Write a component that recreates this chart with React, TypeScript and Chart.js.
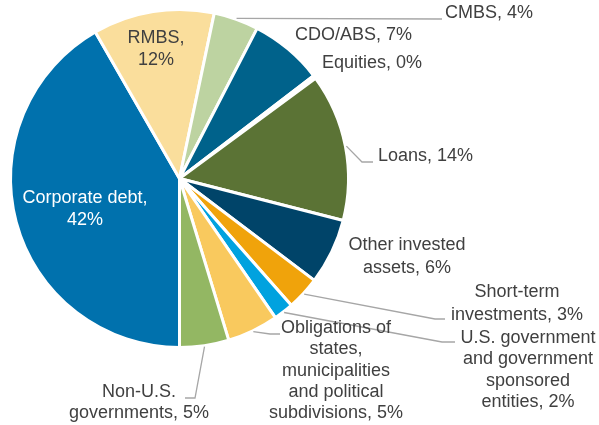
import React, { useEffect, useRef } from "react";
import { Chart, registerables } from "chart.js";

Chart.register(...registerables);

const categories = [
  "Corporate debt",
  "RMBS",
  "CMBS",
  "CDO/ABS",
  "Equities",
  "Loans",
  "Other invested assets",
  "Short-term investments",
  "U.S. government and government sponsored entities",
  "Obligations of states, municipalities and political subdivisions",
  "Non-U.S. governments",
];
const shares = [41.7, 11.6, 4.3, 7.0, 0.3, 14.1, 6.3, 3.2, 1.9, 4.9, 4.7];
const sliceColors = [
  "#0071AD", "#FADE9C", "#BDD3A1", "#00628B", "#7F7F7F", "#5B7335",
  "#004469", "#F0A30B", "#00A2DF", "#F9C95E", "#93B763",
];
// label line templates ({v} = rounded percentage)
const labelLines = [
  ["Corporate debt,", "{v}%"],
  ["RMBS,", "{v}%"],
  ["CMBS, {v}%"],
  ["CDO/ABS, {v}%"],
  ["Equities, {v}%"],
  ["Loans, {v}%"],
  ["Other invested", "assets, {v}%"],
  ["Short-term", "investments, {v}%"],
  ["U.S. government", "and government", "sponsored", "entities, {v}%"],
  ["Obligations of", "states,", "municipalities", "and political", "subdivisions, {v}%"],
  ["Non-U.S.", "governments, {v}%"],
];
// layout: [x, y of first line, align, color, lineHeight]
const labelLayout: [number, number, CanvasTextAlign, string, number][] = [
  [85, 198, "center", "#FFFFFF", 22],
  [156, 38, "center", "#404040", 22],
  [445, 13, "left", "#404040", 22],
  [295, 35, "left", "#404040", 22],
  [322, 63, "left", "#404040", 22],
  [378, 156, "left", "#404040", 22],
  [407, 245, "center", "#404040", 23],
  [517, 292, "center", "#404040", 23],
  [528, 338, "center", "#404040", 21.5],
  [336, 328, "center", "#404040", 21.3],
  [139, 392, "center", "#404040", 21],
];
// leader line bends (after the start point on the slice edge)
const leaderLayout: ([number, number][] | null)[] = [
  null,
  null,
  [[442, 19]],
  null,
  null,
  [[362, 162], [373, 162]],
  null,
  [[435, 319], [445, 319]],
  [[442, 342], [455, 342]],
  [[270, 334], [280, 334]],
  [[195, 398], [185, 398]],
];

const labelPlugin = {
  id: "pieLabels",
  afterDatasetsDraw(chart: any) {
    const ctx = chart.ctx as CanvasRenderingContext2D;
    const meta = chart.getDatasetMeta(0);
    ctx.save();
    // leader lines
    ctx.strokeStyle = "#A6A6A6";
    ctx.lineWidth = 1.3;
    meta.data.forEach((arc: any, i: number) => {
      const pts = leaderLayout[i];
      if (!pts) return;
      const mid = (arc.startAngle + arc.endAngle) / 2;
      const r = arc.outerRadius + 1;
      ctx.beginPath();
      ctx.moveTo(arc.x + Math.cos(mid) * r, arc.y + Math.sin(mid) * r);
      pts.forEach(([px, py]) => ctx.lineTo(px, py));
      ctx.stroke();
    });
    // texts
    ctx.font = '18px "Liberation Sans", Arial, sans-serif';
    ctx.textBaseline = "middle";
    labelLines.forEach((lines, i) => {
      const [x, y, align, color, lh] = labelLayout[i];
      const v = Math.round(shares[i]);
      ctx.fillStyle = color;
      ctx.textAlign = align;
      lines.forEach((ln, k) => {
        ctx.fillText(ln.replace("{v}", String(v)), x, y + k * lh);
      });
    });
    ctx.restore();
  },
};

export default function App() {
  const ref = useRef<HTMLCanvasElement>(null);
  useEffect(() => {
    if (!ref.current) return;
    const chart = new Chart(ref.current, {
      type: "pie",
      data: {
        labels: categories,
        datasets: [
          {
            data: shares,
            backgroundColor: sliceColors,
            borderColor: "#FFFFFF",
            borderWidth: 3,
          },
        ],
      },
      options: {
        animation: false,
        responsive: false,
        rotation: 180,
        layout: { padding: { left: 9, right: 249, top: 8, bottom: 76 } },
        plugins: {
          legend: { display: false },
          tooltip: { enabled: false },
        },
      },
      plugins: [labelPlugin],
    });
    return () => chart.destroy();
  }, []);
  return (
    <div style={{ position: "fixed", left: 0, top: 0, width: 599, height: 425, background: "#FFFFFF" }}>
      <canvas ref={ref} width={599} height={425} style={{ width: 599, height: 425 }} />
    </div>
  );
}
